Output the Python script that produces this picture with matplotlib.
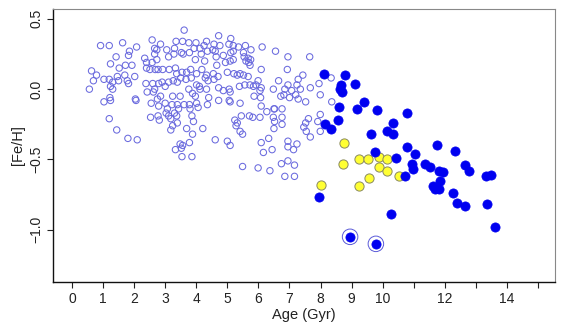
import matplotlib
matplotlib.use("Agg")
import matplotlib.pyplot as plt

plt.rcParams['font.family'] = ['Liberation Sans', 'DejaVu Sans']

# Open circles: young/thin-disk stars (Age Gyr, [Fe/H])
open_age = [3.61, 4.72, 5.11, 0.92, 1.20, 1.63, 1.85, 2.08, 2.58, 2.85, 3.35, 3.56, 3.76, 3.99, 4.33,
            4.57, 4.76, 5.05, 5.19, 5.36, 5.58, 5.76, 6.12, 6.55, 2.66, 2.73, 3.05, 3.30, 3.52, 3.93,
            4.12, 4.25, 4.53, 5.11, 5.19, 5.52, 5.54, 5.67, 5.75, 6.95, 1.42, 1.82, 1.24, 1.52, 1.93,
            1.72, 2.34, 2.40, 2.58, 2.73, 2.66, 3.11, 3.28, 3.58, 3.78, 3.97, 4.16, 4.27, 4.36, 4.61,
            4.64, 4.87, 4.94, 5.09, 5.19, 5.60, 5.69, 5.73, 6.09, 6.93, 0.63, 0.79, 0.69, 1.03, 1.20,
            1.31, 1.46, 1.50, 1.70, 1.78, 2.02, 1.82, 1.24, 1.31, 0.56, 2.51, 2.40, 2.68, 2.77, 2.92,
            3.13, 3.33, 3.37, 3.54, 3.69, 3.82, 4.01, 4.18, 4.33, 4.55, 4.66, 4.70, 5.00, 5.21, 5.32,
            5.41, 5.52, 5.67, 5.99, 5.92, 6.09, 5.84, 6.65, 6.95, 6.85, 2.38, 2.60, 2.79, 2.66, 2.90,
            3.00, 3.11, 3.26, 3.39, 3.50, 3.67, 3.84, 4.01, 4.10, 4.29, 4.38, 4.57, 4.72, 4.87, 5.09,
            5.06, 5.39, 5.56, 5.73, 6.05, 6.48, 6.72, 6.82, 7.00, 1.03, 1.22, 1.24, 2.04, 2.06, 2.42,
            2.62, 2.85, 3.24, 3.48, 3.76, 3.88, 3.97, 4.12, 4.33, 4.40, 4.72, 5.06, 5.09, 5.41, 5.86,
            6.07, 6.09, 6.52, 6.76, 2.55, 2.75, 2.79, 3.00, 3.07, 3.22, 3.30, 3.39, 3.43, 3.61, 3.78,
            3.80, 4.01, 4.06, 4.36, 1.20, 1.44, 1.80, 2.10, 2.53, 2.77, 2.81, 3.03, 3.11, 3.18, 3.37,
            3.39, 3.24, 3.18, 3.69, 3.88, 3.86, 3.91, 4.21, 4.61, 5.00, 5.09, 5.24, 5.32, 5.28, 5.41,
            5.49, 5.45, 5.71, 5.82, 6.05, 6.27, 6.50, 6.48, 6.52, 6.76, 6.76, 6.50, 6.33, 6.09, 6.16,
            6.44, 6.95, 6.95, 3.33, 3.56, 3.52, 3.54, 3.78, 3.86, 3.48, 5.49, 5.99, 6.37, 6.74, 6.95,
            6.85,
            7.65, 7.43, 7.28, 7.24, 7.35, 7.07, 7.20, 7.28, 7.52, 7.67, 7.95, 7.99, 8.36, 8.34,
            7.61, 7.52, 7.46, 7.54, 7.67, 7.99, 7.91, 7.99, 7.24, 7.13, 7.16, 7.16]
open_feh = [0.42, 0.38, 0.36, 0.31, 0.31, 0.33, 0.27, 0.30, 0.35, 0.32, 0.34, 0.34, 0.33, 0.33, 0.34,
            0.32, 0.31, 0.32, 0.31, 0.30, 0.31, 0.28, 0.30, 0.27, 0.29, 0.28, 0.28, 0.29, 0.26, 0.29,
            0.29, 0.31, 0.28, 0.26, 0.27, 0.26, 0.23, 0.22, 0.21, 0.23, 0.23, 0.24, 0.18, 0.15, 0.17,
            0.17, 0.22, 0.19, 0.19, 0.21, 0.25, 0.23, 0.25, 0.25, 0.26, 0.21, 0.25, 0.20, 0.27, 0.27,
            0.23, 0.24, 0.19, 0.20, 0.21, 0.20, 0.19, 0.17, 0.14, 0.14, 0.13, 0.10, 0.06, 0.07, 0.07,
            0.05, 0.09, 0.06, 0.10, 0.06, 0.09, 0.04, 0.02, 0.00, 0.00, 0.14, 0.15, 0.14, 0.14, 0.14,
            0.14, 0.15, 0.11, 0.12, 0.12, 0.14, 0.11, 0.14, 0.10, 0.11, 0.17, 0.09, 0.12, 0.11, 0.10,
            0.11, 0.10, 0.09, 0.06, 0.03, 0.01, 0.02, 0.06, 0.03, 0.00, 0.04, 0.04, 0.04, 0.00, 0.05,
            0.02, 0.05, 0.06, 0.05, 0.08, 0.07, 0.08, 0.03, 0.02, 0.08, 0.06, 0.07, 0.01, -0.01, -0.02,
            0.00, 0.02, 0.03, 0.03, -0.01, 0.00, -0.05, -0.04, -0.06, -0.09, -0.06, -0.08, -0.07, -0.08, -0.02,
            -0.02, -0.05, -0.05, -0.05, 0.00, -0.03, -0.05, 0.00, 0.00, -0.06, -0.08, -0.08, -0.09, -0.10, -0.05,
            -0.06, -0.12, -0.14, -0.14, -0.10, -0.07, -0.12, -0.10, -0.14, -0.11, -0.17, -0.11, -0.14, -0.11, -0.11,
            -0.14, -0.10, -0.13, -0.11, -0.21, -0.29, -0.35, -0.36, -0.20, -0.19, -0.22, -0.17, -0.19, -0.21, -0.19,
            -0.24, -0.26, -0.29, -0.28, -0.32, -0.19, -0.23, -0.28, -0.36, -0.37, -0.40, -0.22, -0.24, -0.26, -0.30,
            -0.32, -0.19, -0.19, -0.20, -0.20, -0.16, -0.14, -0.20, -0.23, -0.20, -0.25, -0.28, -0.35, -0.38, -0.45,
            -0.43, -0.37, -0.41, -0.43, -0.40, -0.42, -0.48, -0.38, -0.48, -0.39, -0.55, -0.56, -0.58, -0.53, -0.51,
            -0.62,
            0.23, 0.10, 0.07, 0.03, 0.00, -0.01, -0.04, -0.07, -0.09, 0.01, 0.04, -0.04, -0.09, 0.08,
            -0.21, -0.24, -0.27, -0.30, -0.34, -0.18, -0.23, -0.30, -0.39, -0.43, -0.54, -0.62]

# Filled blue: old stars
old_age = [8.11, 8.80, 9.10, 8.67, 8.63, 8.69, 9.40, 9.16, 9.81, 8.58, 10.77, 10.34, 8.56, 8.13, 8.35,
           9.61, 10.13, 10.32, 10.78, 11.74, 12.33, 11.04, 10.94, 10.97, 11.36, 11.52, 11.80, 11.94,
           12.65, 12.78, 13.32, 13.49, 10.71, 11.84, 11.62, 11.68, 11.81, 12.25, 12.39, 12.65, 13.36,
           13.61, 10.43, 9.74, 7.94, 10.26]
old_feh = [0.11, 0.10, 0.04, 0.03, 0.00, -0.02, -0.09, -0.14, -0.15, -0.13, -0.17, -0.24, -0.22, -0.25, -0.28,
           -0.32, -0.30, -0.32, -0.41, -0.40, -0.44, -0.46, -0.53, -0.57, -0.53, -0.55, -0.58, -0.59,
           -0.54, -0.58, -0.62, -0.61, -0.62, -0.65, -0.69, -0.71, -0.71, -0.74, -0.81, -0.83, -0.82,
           -0.98, -0.49, -0.45, -0.77, -0.89]

# Yellow: intermediate stars
yel_age = [8.75, 8.73, 9.23, 9.53, 9.89, 10.13, 9.89, 10.15, 9.57, 10.53, 8.00, 9.23]
yel_feh = [-0.38, -0.53, -0.50, -0.50, -0.48, -0.50, -0.55, -0.58, -0.63, -0.62, -0.68, -0.69]

# Ringed metal-poor stars
ring_age = [8.95, 9.78]
ring_feh = [-1.05, -1.10]

x_ticks = list(range(0, 16))
x_labels = ['0', '1', '2', '3', '4', '5', '6', '7', '8', '9', '10', '', '12', '', '14', '']
y_ticks = [0.5, 0.0, -0.5, -1.0]
y_labels = ['0.5', '0.0', '\u22120.5', '\u22121.0']

fig = plt.figure(figsize=(5.70, 3.29), dpi=100)
ax = fig.add_axes([0.093, 0.143, 0.881, 0.830])

ax.scatter(open_age, open_feh, s=21, facecolors='none', edgecolors='#6a6ade', linewidths=0.75, zorder=2)
ax.scatter(yel_age, yel_feh, s=44, facecolors='#ffff33', edgecolors='#8a8a60', linewidths=0.7, zorder=3)
ax.scatter(old_age, old_feh, s=44, facecolors='#0000f0', edgecolors='#0000f0', linewidths=0.5, zorder=4)
ax.scatter(ring_age, ring_feh, s=44, facecolors='#0000f0', edgecolors='#0000f0', linewidths=0.5, zorder=4)
ax.scatter(ring_age, ring_feh, s=125, facecolors='none', edgecolors='#5a5ad8', linewidths=0.7, zorder=4)

ax.set_xlim(-0.61, 15.55)
ax.set_ylim(-1.371, 0.571)
ax.set_xticks(x_ticks)
ax.set_xticklabels(x_labels)
ax.set_yticks(y_ticks)
ax.set_yticklabels(y_labels)
for lab in ax.get_yticklabels():
    lab.set_rotation(90)
    lab.set_va('center')

ax.tick_params(axis='both', direction='out', length=4, width=0.8, labelsize=10, colors='#222222', pad=3)
ax.set_xlabel('Age (Gyr)', fontsize=10.5, color='#222222', labelpad=2)
ax.set_ylabel('[Fe/H]', fontsize=10.5, color='#222222', labelpad=3)

for side in ['left', 'bottom']:
    ax.spines[side].set_color('#111111')
    ax.spines[side].set_linewidth(1.0)
for side in ['top', 'right']:
    ax.spines[side].set_color('#888888')
    ax.spines[side].set_linewidth(0.8)

fig.savefig('out.png', dpi=100)
